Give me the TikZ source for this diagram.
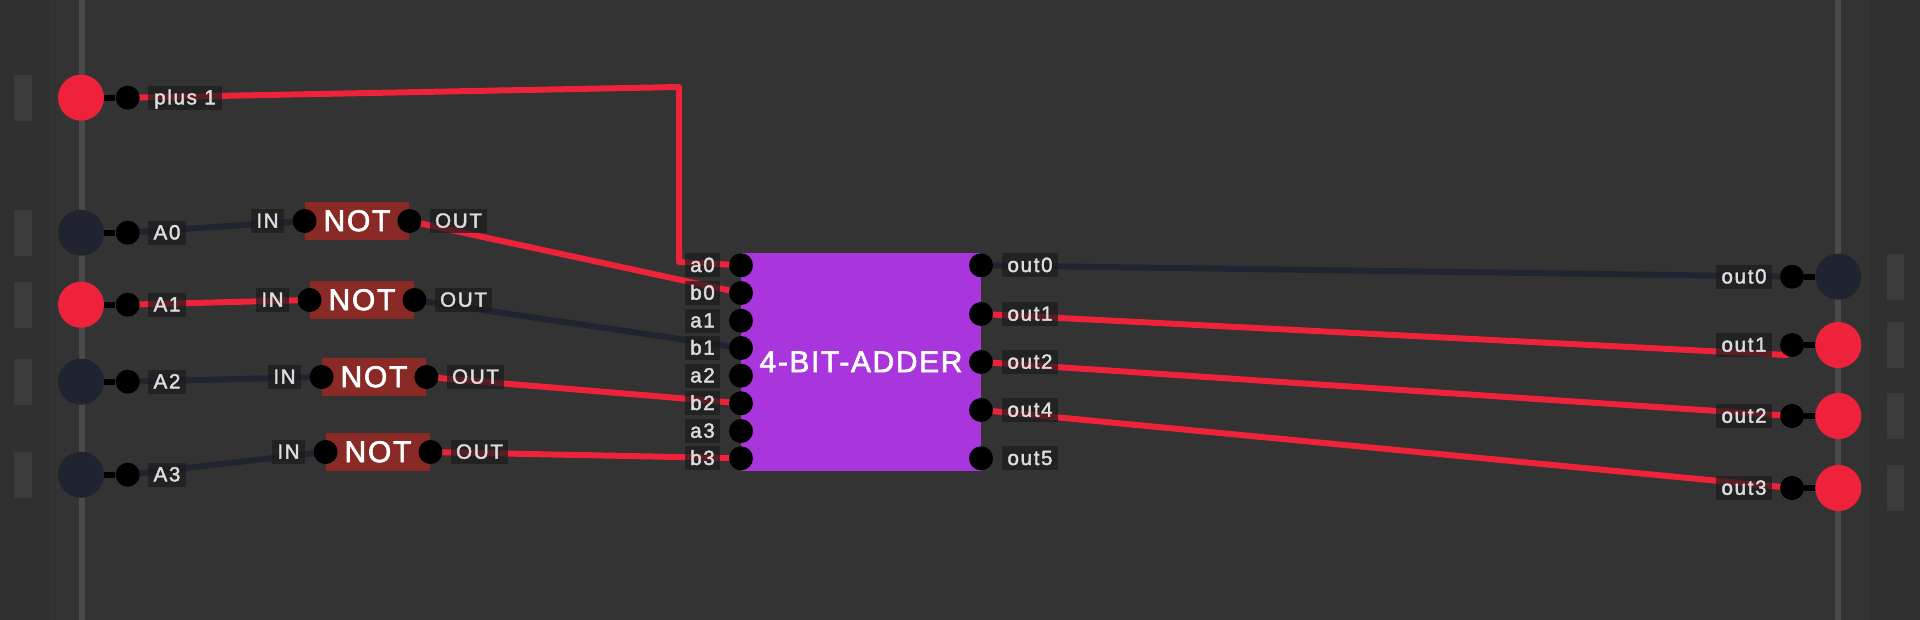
\documentclass[tikz,border=0pt]{standalone}
\usepackage{fontspec}
\setmainfont{Liberation Sans}
\pgfdeclarelayer{panel}
\pgfdeclarelayer{wires}
\pgfsetlayers{panel,wires,main}
\definecolor{bgc}{HTML}{333333}
\definecolor{sidec}{HTML}{303030}
\definecolor{railc}{HTML}{4A4A4A}
\definecolor{tabc}{HTML}{3B3B3B}
\definecolor{onc}{HTML}{EE233B}
\definecolor{offc}{HTML}{1F2430}
\definecolor{purp}{HTML}{A836DC}
\definecolor{notc}{HTML}{8A2A26}
\definecolor{txtc}{HTML}{DCDCDC}
\definecolor{lblc}{HTML}{1B1B1B}
\tikzset{
  x=0.5pt,y=-0.5pt,
  iocircle/.style={circle,inner sep=0pt,minimum size=23pt},
  ioon/.style={iocircle,fill=onc},
  iooff/.style={iocircle,fill=offc},
  pin/.style={circle,fill=black,inner sep=0pt,minimum size=12pt},
  lbl/.style={fill=lblc,fill opacity=.7,text opacity=1,text=txtc,inner sep=0pt,minimum height=12pt,
    text height=7.3pt,text depth=0.6pt,
    font=\fontsize{10.3}{12}\selectfont\addfontfeatures{LetterSpace=8,FakeBold=2}},
  lblw/.style={lbl,minimum width=#1*0.5pt},
  notbox/.style={fill=notc,inner sep=0pt,minimum width=52pt,minimum height=19pt,text=white,
    text height=10.7pt,text depth=0.6pt,
    font=\fontsize{15}{18}\selectfont\addfontfeatures{LetterSpace=6,FakeBold=2}},
  wire/.style={line width=3pt,line join=round},
  wireon/.style={wire,draw=onc},
  wireoff/.style={wire,draw=offc},
  stub/.style={line width=3pt,draw=black},
}
\begin{document}
\begin{tikzpicture}
\useasboundingbox (0,0) rectangle (1920,620);
\begin{pgfonlayer}{panel}
  \fill[bgc] (0,0) rectangle (1920,620);
  \fill[sidec] (0,0) rectangle (49,620);
  \fill[sidec] (1870,0) rectangle (1920,620);
  \fill[railc] (79,0) rectangle (85,620);
  \fill[railc] (1835,0) rectangle (1841,620);
  \foreach \yy in {97.7,232.7,304.7,381.7,474.7} \fill[tabc] (14,\yy-23) rectangle (32,\yy+23);
  \foreach \yy in {276.7,345,416,488} \fill[tabc] (1887,\yy-23) rectangle (1904,\yy+23);
\end{pgfonlayer}
% inputs
\node[ioon] (i1) at (81,97.7) {};
\node[iooff] (i2) at (81,232.7) {};
\node[ioon] (i3) at (81,304.7) {};
\node[iooff] (i4) at (81,381.7) {};
\node[iooff] (i5) at (81,474.7) {};
\node[pin] (ip1) at (127.7,97.7) {};
\node[pin] (ip2) at (127.7,232.7) {};
\node[pin] (ip3) at (127.7,304.7) {};
\node[pin] (ip4) at (127.7,381.7) {};
\node[pin] (ip5) at (127.7,474.7) {};
\node[lblw=74] (il1) at (185,97.7) {plus 1};
\node[lblw=38] (il2) at (167,232.7) {A0};
\node[lblw=38] (il3) at (167,304.7) {A1};
\node[lblw=38] (il4) at (167,381.7) {A2};
\node[lblw=38] (il5) at (167,474.7) {A3};
% NOT gates
\node[notbox] (n0) at (357,221) {NOT};
\node[notbox] (n1) at (362,300) {NOT};
\node[notbox] (n2) at (374,377) {NOT};
\node[notbox] (n3) at (378,452) {NOT};
\foreach \g in {0,1,2,3} {
  \node[pin] (n\g i) at (n\g.west) {};
  \node[pin] (n\g o) at (n\g.east) {};
}
\node[lblw=33] (nl0i) at (267.5,221) {IN};
\node[lblw=33] (nl1i) at (272.5,300) {IN};
\node[lblw=33] (nl2i) at (284.5,377) {IN};
\node[lblw=33] (nl3i) at (288.5,452) {IN};
\node[lblw=57] (nl0o) at (458.5,221) {OUT};
\node[lblw=57] (nl1o) at (463.5,300) {OUT};
\node[lblw=57] (nl2o) at (475.5,377) {OUT};
\node[lblw=57] (nl3o) at (479.5,452) {OUT};
% adder
\node[fill=purp,inner sep=0pt,minimum width=120.3pt,minimum height=108.7pt,text=white,
  text height=10.7pt,text depth=0.6pt,
  font=\fontsize{15}{18}\selectfont\addfontfeatures{LetterSpace=5.4,FakeBold=2}] (add) at (861,362) {4-BIT-ADDER};
\foreach \n/\yy/\t in {pa0/265.3/a0,pb0/293/b0,pa1/320.7/a1,pb1/348/b1,pa2/375.7/a2,pb2/403.3/b2,pa3/431/a3,pb3/458.3/b3} {
  \node[pin] (\n) at (741,\yy) {};
  \node[lblw=35] (l\n) at (702.5,\yy) {\t};
}
\foreach \n/\yy/\t in {q0/265.3/out0,q1/314/out1,q2/362/out2,q4/410/out4,q5/458.3/out5} {
  \node[pin] (\n) at (981,\yy) {};
  \node[lblw=56] (l\n) at (1030,\yy) {\t};
}
% outputs
\node[iooff] (o0) at (1838.3,276.7) {};
\node[ioon] (o1) at (1838.3,345) {};
\node[ioon] (o2) at (1838.3,416) {};
\node[ioon] (o3) at (1838.3,488) {};
\foreach \g/\yy/\t in {0/276.7/out0,1/345/out1,2/416/out2,3/488/out3} {
  \node[pin] (op\g) at (1792,\yy) {};
  \node[lblw=56] (ol\g) at (1744,\yy) {\t};
}
\coordinate (c1) at (679,87);
\coordinate (c2) at (679,262);
\coordinate (c3) at (1787,355);
\begin{pgfonlayer}{wires}
  \foreach \k in {1,...,5} \draw[stub] (i\k) -- (ip\k);
  \foreach \k in {0,...,3} \draw[stub] (o\k) -- (op\k);
  \draw[wireon] (ip1.center) -- (c1) -- (c2) -- (pa0.center);
  \draw[wireoff] (ip2.center) -- (n0i.center);
  \draw[wireon] (ip3.center) -- (n1i.center);
  \draw[wireoff] (ip4.center) -- (n2i.center);
  \draw[wireoff] (ip5.center) -- (n3i.center);
  \draw[wireon] (n0o.center) -- (pb0.center);
  \draw[wireoff] (n1o.center) -- (pb1.center);
  \draw[wireon] (n2o.center) -- (pb2.center);
  \draw[wireon] (n3o.center) -- (pb3.center);
  \draw[wireoff] (q0.center) -- (op0.center);
  \draw[wireon] (q1.center) -- (c3) -- (op1.center);
  \draw[wireon] (q2.center) -- (op2.center);
  \draw[wireon] (q4.center) -- (op3.center);
\end{pgfonlayer}
\end{tikzpicture}
\end{document}
